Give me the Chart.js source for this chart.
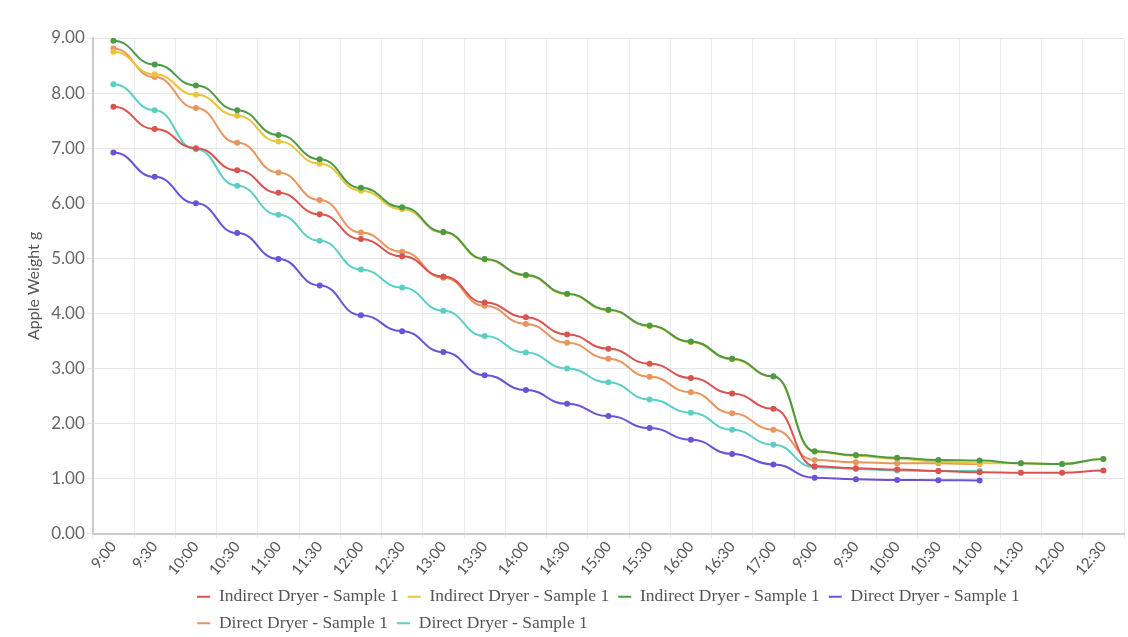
<!DOCTYPE html>
<html>
<head>
<meta charset="utf-8">
<script src="https://cdn.jsdelivr.net/npm/chart.js@4.4.1/dist/chart.umd.min.js"></script>
<style>
  html, body { margin: 0; padding: 0; background: #ffffff; }
  #wrap { position: relative; width: 1128px; height: 637px; }
</style>
</head>
<body>
<div id="wrap"><canvas id="c"></canvas></div>
<script>
// ---- data ----
const timeLabels = ['9:00','9:30','10:00','10:30','11:00','11:30','12:00','12:30','13:00','13:30','14:00','14:30','15:00','15:30','16:00','16:30','17:00',
                    '9:00','9:30','10:00','10:30','11:00','11:30','12:00','12:30'];

const seriesNames = ['Indirect Dryer - Sample 1','Indirect Dryer - Sample 1','Indirect Dryer - Sample 1',
                     'Direct Dryer - Sample 1','Direct Dryer - Sample 1','Direct Dryer - Sample 1'];

const indirect1 = [7.75, 7.35, 7.00, 6.60, 6.19, 5.80, 5.35, 5.04, 4.67, 4.20, 3.93, 3.62, 3.36, 3.09, 2.83, 2.55, 2.27,
                   1.23, 1.19, 1.17, 1.14, 1.12, 1.11, 1.11, 1.15];
const indirect2 = [8.75, 8.34, 7.97, 7.59, 7.12, 6.72, 6.23, 5.89, 5.47, 4.98, 4.69, 4.35, 4.06, 3.77, 3.48, 3.17, 2.85,
                   1.49, 1.42, 1.36, 1.31, 1.28, 1.28, 1.27, 1.36];
const indirect3 = [8.95, 8.52, 8.14, 7.69, 7.24, 6.80, 6.28, 5.93, 5.48, 4.99, 4.70, 4.36, 4.07, 3.78, 3.49, 3.18, 2.86,
                   1.50, 1.43, 1.38, 1.34, 1.33, 1.28, 1.27, 1.36];
const direct1   = [6.92, 6.48, 6.00, 5.46, 4.99, 4.51, 3.97, 3.68, 3.30, 2.88, 2.61, 2.36, 2.14, 1.92, 1.71, 1.45, 1.26,
                   1.02, 0.99, 0.98, 0.975, 0.97];
const direct2   = [8.81, 8.29, 7.73, 7.10, 6.56, 6.06, 5.47, 5.12, 4.65, 4.14, 3.81, 3.47, 3.18, 2.85, 2.57, 2.19, 1.89,
                   1.34, 1.30, 1.28, 1.28, 1.27];
const direct3   = [8.16, 7.69, 6.98, 6.32, 5.79, 5.32, 4.80, 4.47, 4.05, 3.59, 3.29, 3.00, 2.75, 2.44, 2.20, 1.89, 1.62,
                   1.21, 1.18, 1.15, 1.14, 1.14];

const seriesColors = ['#d9534f', '#e8c53a', '#4c9a46', '#6b52d6', '#e8955f', '#5ccfc5'];
const seriesData = [indirect1, indirect2, indirect3, direct1, direct2, direct3];
const drawOrder = [0, 0, -1, 0, 0, 0];

// horizontal-tangent ("bump") curve through the library's own point positions
const bumpCurve = {
  id: 'bumpCurve',
  beforeDatasetDraw(chart, args) {
    const meta = args.meta;
    const pts = meta.data;
    for (let i = 0; i < pts.length; i++) {
      const p = pts[i], prev = pts[i - 1], next = pts[i + 1];
      p.cp1x = prev ? p.x - (p.x - prev.x) * 0.5 : p.x;
      p.cp1y = p.y;
      p.cp2x = next ? p.x + (next.x - p.x) * 0.5 : p.x;
      p.cp2y = p.y;
    }
    if (meta.dataset) {
      meta.dataset._pointsUpdated = true;
      meta.dataset._path = undefined;
    }
  }
};

// first legend row centred, following rows start where the first one starts
const legendRows = {
  id: 'legendRows',
  afterLayout(chart) {
    const lg = chart.legend;
    if (lg && lg.lineWidths && lg.lineWidths.length > 1) {
      for (let i = 1; i < lg.lineWidths.length; i++) lg.lineWidths[i] = lg.lineWidths[0];
    }
  }
};

const datasets = seriesData.map((d, i) => ({
  label: seriesNames[i],
  data: d,
  borderColor: seriesColors[i],
  backgroundColor: seriesColors[i],
  pointBackgroundColor: seriesColors[i],
  pointBorderColor: seriesColors[i],
  borderWidth: 2,
  pointRadius: 3,
  pointBorderWidth: 0,
  tension: 0.4,
  fill: false,
  order: drawOrder[i]
}));

new Chart(document.getElementById('c'), {
  type: 'line',
  data: { labels: timeLabels, datasets },
  plugins: [bumpCurve, legendRows],
  options: {
    responsive: true,
    maintainAspectRatio: false,
    animation: false,
    layout: { padding: { top: 38, left: 24, right: 0, bottom: -5 } },
    plugins: {
      tooltip: { enabled: false },
      legend: {
        position: 'bottom',
        fullSize: false,
        align: 'center',
        labels: {
          font: { family: 'Liberation Serif', size: 17.5 },
          color: '#555555',
          boxWidth: 13,
          boxHeight: 2,
          padding: 9,
          sort: (a, b) => a.datasetIndex - b.datasetIndex,
          generateLabels(chart) {
            const items = Chart.defaults.plugins.legend.labels.generateLabels(chart);
            items.forEach(it => { it.lineWidth = 0; });
            return items;
          }
        }
      }
    },
    scales: {
      x: {
        type: 'category',
        offset: true,
        grid: { offset: true, color: '#ececec', tickLength: 4 },
        border: { color: '#cccccc', width: 2 },
        ticks: {
          autoSkip: false,
          minRotation: 50,
          maxRotation: 50,
          padding: 0,
          color: '#555555',
          font: { family: 'Lato', size: 15 }
        }
      },
      y: {
        min: 0,
        max: 9,
        grid: { color: '#e6e6e6', tickLength: 6 },
        border: { color: '#cccccc', width: 2 },
        ticks: {
          stepSize: 1,
          padding: 2,
          color: '#666666',
          font: { family: 'Lato', size: 17 },
          callback: v => Number(v).toFixed(2)
        },
        title: {
          display: true,
          text: 'Apple Weight g',
          color: '#555555',
          font: { family: 'Lato', size: 16 },
          padding: { top: 0, bottom: 6 }
        }
      }
    }
  }
});
</script>
</body>
</html>
